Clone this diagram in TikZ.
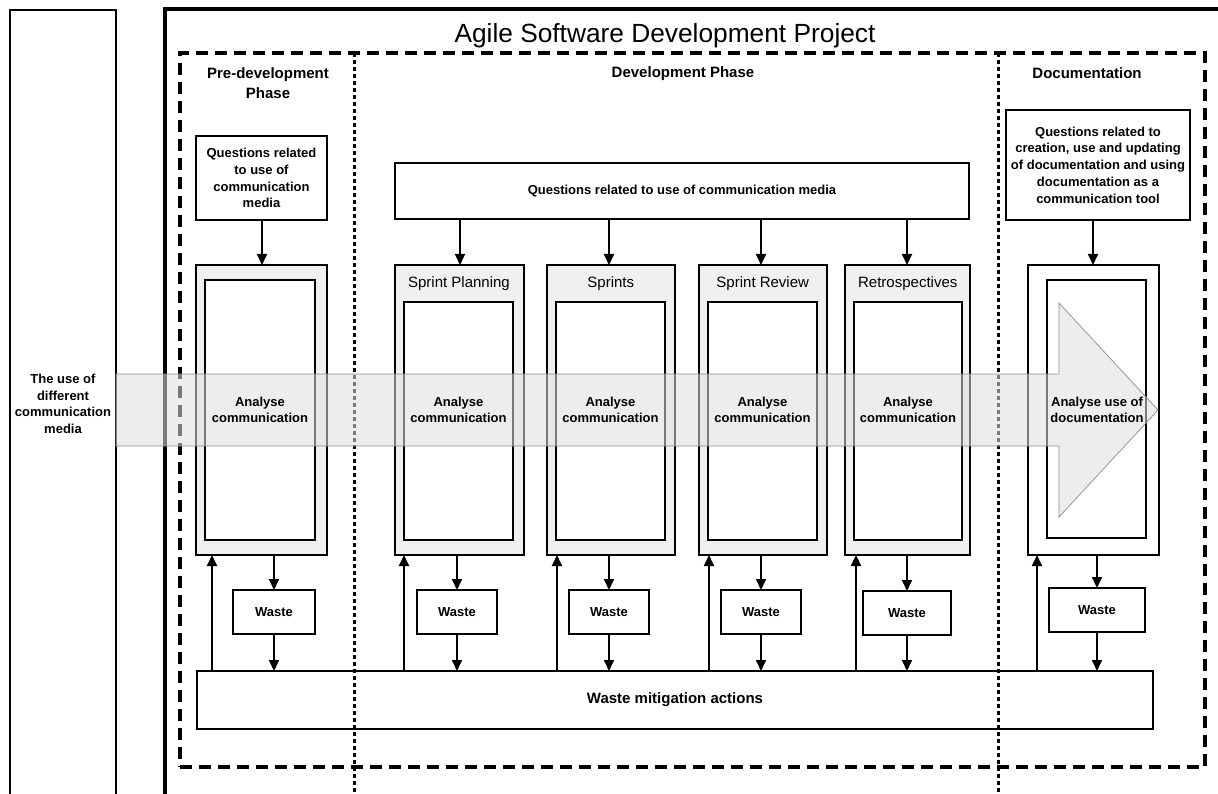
\documentclass[tikz,border=0pt]{standalone}
\usepackage{fontspec}
\setmainfont{Liberation Sans}
\usetikzlibrary{arrows.meta,calc}
\newcommand\bxat[7]{\node[#2,anchor=north west,minimum width={#5-#3},minimum height={#6-#4}] (#1) at (#3,#4) {#7};}
\begin{document}
\begin{tikzpicture}[x=1pt,y=-1pt,
  base/.style={inner sep=0pt,outer sep=0pt,align=center},
  bx/.style={base,draw=black,line width=2.1pt,fill=white,font=\bfseries\fontsize{13}{16.8}\selectfont},
  gbx/.style={bx,fill=black!6},
  hdr/.style={base,font=\bfseries\fontsize{15}{19.5}\selectfont},
  sname/.style={base,font=\fontsize{15}{18}\selectfont},
  btxt/.style={base,font=\bfseries\fontsize{13}{16.5}\selectfont},
  arr/.style={line width=1.8pt,-{Triangle[length=11pt,width=10pt]}},
  dashbox/.style={line width=3.2pt,dash pattern=on 12pt off 7pt},
  dotline/.style={line width=3pt,dash pattern=on 4pt off 3pt},
]
\useasboundingbox (0,0) rectangle (1218,794);
\clip (0,0) rectangle (1218,794);
\fill[white] (0,0) rectangle (1218,794);

% left box
\bxat{lft}{bx,line width=2.2pt}{10}{10}{116}{830}{}
\node[btxt] (lbl) at (63,404) {The use of\\different\\communication\\media};

% outer project frame
\bxat{proj}{base,draw=black,line width=4.5pt}{165}{9}{1240}{830}{}
\node[base,font=\fontsize{26.3}{30}\selectfont] (title) at (665,36) {Agile Software Development Project};

% dashed box and dotted separators
\bxat{phases}{base,draw=black,dashbox}{180}{53}{1205}{767}{}
\coordinate (sepA) at (354,53);
\coordinate (sepB) at (998,53);
\draw[dotline] (sepA) -- (sepA |- 0,820);
\draw[dotline] (sepB) -- (sepB |- 0,820);

% headers
\node[hdr] (hpre) at (268,83) {Pre-development\\Phase};
\node[hdr] (hdev) at (683,74) {Development Phase};
\node[hdr] (hdoc) at (1087,73) {Documentation};

% question boxes
\bxat{qpre}{bx}{196}{136}{327}{220}{Questions related\\to use of\\communication\\media}
\bxat{qdev}{bx}{395}{163}{969}{219}{Questions related to use of communication media}
\bxat{qdoc}{bx}{1006}{110}{1190}{220}{Questions related to\\creation, use and updating\\of documentation and using\\documentation as a\\communication tool}

% activity boxes
\bxat{gpre}{gbx}{196}{265}{327}{555}{}
\bxat{ipre}{bx}{205}{280}{315}{540}{}
\bxat{gsp}{gbx}{395}{265}{524}{555}{}
\bxat{isp}{bx}{404}{302}{513}{540}{}
\bxat{gsr}{gbx}{547}{265}{675}{555}{}
\bxat{isr}{bx}{556}{302}{665}{540}{}
\bxat{grv}{gbx}{699}{265}{827}{555}{}
\bxat{irv}{bx}{708}{302}{817}{540}{}
\bxat{gre}{gbx}{845}{265}{970}{555}{}
\bxat{ire}{bx}{854}{302}{962}{540}{}
\bxat{gdoc}{bx}{1028}{265}{1159}{555}{}
\bxat{idoc}{bx}{1047}{280}{1146}{538}{}

\node[sname] at ($(gsp.north)!0.5!(isp.north)$) {Sprint Planning};
\node[sname] at ($(gsr.north)!0.5!(isr.north)$) {Sprints};
\node[sname] at ($(grv.north)!0.5!(irv.north)$) {Sprint Review};
\node[sname] at ($(gre.north)!0.5!(ire.north)$) {Retrospectives};

% big arrow
\draw[draw=black!45,line width=0.7pt,fill=black!12,fill opacity=0.55]
  (116,374) -- (1059,374) -- (1059,303) -- (1158,410) -- (1059,517) -- (1059,446) -- (116,446) -- cycle;

\coordinate (mid) at (0,410);
\node[btxt] at (ipre |- mid) {Analyse\\communication};
\node[btxt] at (isp |- mid) {Analyse\\communication};
\node[btxt] at (isr |- mid) {Analyse\\communication};
\node[btxt] at (irv |- mid) {Analyse\\communication};
\node[btxt] at (ire |- mid) {Analyse\\communication};
\node[btxt] at (1097,410) {Analyse use of\\documentation};

% waste boxes
\bxat{wpre}{bx}{233}{590}{315}{634}{Waste}
\bxat{wsp}{bx}{417}{590}{497}{634}{Waste}
\bxat{wsr}{bx}{569}{590}{649}{634}{Waste}
\bxat{wrv}{bx}{721}{590}{801}{634}{Waste}
\bxat{wre}{bx}{863}{591}{951}{635}{Waste}
\bxat{wdoc}{bx}{1049}{588}{1145}{632}{Waste}

% mitigation (transparent, separators show through)
\bxat{mit}{bx,fill=none,font=\bfseries\fontsize{15}{18}\selectfont}{197}{671}{1153}{729}{Waste mitigation actions}

% arrows from questions
\draw[arr] (qpre.south -| 262,0) -- (gpre.north -| 262,0);
\draw[arr] (qdev.south -| 460,0) -- (gsp.north -| 460,0);
\draw[arr] (qdev.south -| 609,0) -- (gsr.north -| 609,0);
\draw[arr] (qdev.south -| 761,0) -- (grv.north -| 761,0);
\draw[arr] (qdev.south -| 907,0) -- (gre.north -| 907,0);
\draw[arr] (qdoc.south -| 1093,0) -- (gdoc.north -| 1093,0);

% arrows to waste and mitigation
\foreach \g/\w in {gpre/wpre,gsp/wsp,gsr/wsr,grv/wrv,gre/wre,gdoc/wdoc}{
  \draw[arr] (\w.north |- \g.south) -- (\w.north);
  \draw[arr] (\w.south) -- (\w.south |- mit.north);
}
% feedback arrows
\foreach \g/\d [count=\i] in {gpre/16,gsp/9,gsr/10,grv/10,gre/11,gdoc/9}{
  \coordinate (up\i) at ($(\g.south west)+(\d,0)$);
  \draw[arr] (up\i |- mit.north) -- (up\i);
}
\end{tikzpicture}
\end{document}
